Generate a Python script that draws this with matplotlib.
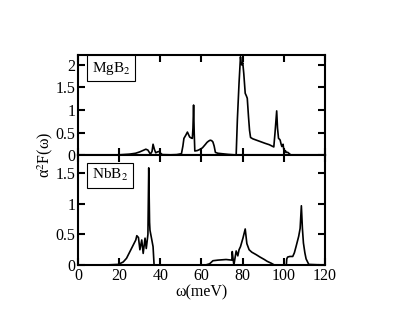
import numpy as np
import matplotlib
matplotlib.use("Agg")
import matplotlib.pyplot as plt

plt.rcParams["font.family"] = ["Liberation Serif", "DejaVu Serif"]
plt.rcParams["mathtext.fontset"] = "stix"

# MgB2 spectral function (omega in meV, alpha^2 F)
mg_w = [0, 15, 20, 25, 28, 30, 32, 33, 34, 35.2, 36, 36.5, 37.2, 37.8, 38.6, 39.4,
        40.2, 41, 45, 48, 50.3, 51, 51.5, 52.4, 53.2, 53.8, 54.3, 55, 55.6, 55.9,
        56.2, 56.5, 56.8, 58, 59, 60.5, 62, 62.7, 63.5, 64.3, 65, 65.6, 66.2, 66.8,
        68, 70, 73, 76, 76.9, 77.5, 78.3, 79.0, 79.3, 79.6, 80.1, 80.6, 81.3, 81.8,
        82.3, 82.9, 83.4, 83.9, 85.0, 88, 91, 93, 95.2, 95.8, 96.6, 97.0, 97.5, 98.0,
        98.3, 98.7, 99.1, 99.7, 100.3, 100.8, 101.3, 102, 103, 103.6, 120]
mg_a2f = [0, 0, 0.005, 0.02, 0.04, 0.07, 0.11, 0.13, 0.11, 0.02, 0.08, 0.24, 0.12,
          0.05, 0.07, 0.08, 0.04, 0.01, 0.005, 0.01, 0.03, 0.2, 0.37, 0.44, 0.51,
          0.45, 0.40, 0.38, 0.37, 0.6, 1.11, 0.5, 0.09, 0.1, 0.12, 0.16, 0.24, 0.28,
          0.31, 0.33, 0.32, 0.29, 0.2, 0.06, 0.04, 0.03, 0.015, 0.005, 0, 0.8, 1.6,
          2.18, 2.05, 2.0, 2.05, 1.81, 1.37, 1.32, 1.26, 0.85, 0.55, 0.39, 0.36, 0.31,
          0.26, 0.23, 0.18, 0.5, 0.98, 0.6, 0.37, 0.35, 0.33, 0.25, 0.19, 0.24, 0.04,
          0.1, 0.06, 0.06, 0.02, 0, 0]

# NbB2 spectral function
nb_w = [0, 10, 15, 19.6, 22, 23.6, 26.0, 28.1, 28.6, 29.4, 30.1, 31.0, 31.7, 32.6,
        33.2, 34.0, 34.4, 34.8, 35.0, 35.9, 36.5, 37, 45, 55, 62, 64, 65.6, 68, 72,
        74.8, 75.0, 75.4, 75.8, 76.9, 77.7, 78.3, 79.0, 80.2, 81.3, 82.1, 83.2, 84.5,
        86.6, 88.5, 90.6, 92, 93.9, 95.5, 101.3, 101.5, 101.9, 103, 104.4, 105.2,
        106.0, 107.3, 108.0, 108.6, 109.1, 109.6, 110.3, 110.9, 112.2, 120]
nb_a2f = [0, 0, 0.003, 0.01, 0.05, 0.11, 0.27, 0.41, 0.48, 0.45, 0.25, 0.41, 0.19,
          0.44, 0.27, 0.5, 1.59, 0.7, 0.57, 0.41, 0.3, 0, 0, 0, 0, 0.02, 0.07, 0.08,
          0.09, 0.08, 0.22, 0.1, 0, 0.23, 0.15, 0.25, 0.30, 0.44, 0.59, 0.35, 0.25,
          0.21, 0.17, 0.13, 0.09, 0.06, 0.03, 0, 0, 0.1, 0.13, 0.14, 0.14, 0.2, 0.3,
          0.47, 0.6, 0.97, 0.6, 0.36, 0.2, 0.1, 0.01, 0]

x_ticks = [0, 20, 40, 60, 80, 100, 120]
top_yticks = [0, 0.5, 1, 1.5, 2]
top_ylabels = ["0", "0.5", "1", "1.5", "2"]
bot_yticks = [0, 0.5, 1, 1.5]
bot_ylabels = ["0", "0.5", "1", "1.5"]


def style_axis(ax):
    for s in ax.spines.values():
        s.set_linewidth(1.5)
    ax.tick_params(direction="in", length=5, width=1.5, top=True, right=True,
                   labelsize=11.5, pad=2)


fig = plt.figure(figsize=(4.03, 3.12), dpi=100)
ax1 = fig.add_axes([0.1935, 0.503, 0.6125, 0.3207])
ax2 = fig.add_axes([0.1935, 0.1506, 0.6125, 0.3524])

ax1.plot(mg_w, mg_a2f, color="black", lw=1.2)
ax1.set_xlim(0, 120)
ax1.set_ylim(0, 2.22)
ax1.set_xticks(x_ticks)
ax1.set_xticklabels([])
ax1.set_yticks(top_yticks)
ax1.set_yticklabels(top_ylabels)
style_axis(ax1)
ax1.text(0.135, 0.87, "MgB$_2$", transform=ax1.transAxes, ha="center", va="center",
         fontsize=11, bbox=dict(boxstyle="square,pad=0.3", fc="white", ec="black", lw=0.8))

ax2.plot(nb_w, nb_a2f, color="black", lw=1.2)
ax2.set_xlim(0, 120)
ax2.set_ylim(0, 1.8)
ax2.set_xticks(x_ticks)
ax2.set_xticklabels([str(t) for t in x_ticks])
ax2.set_yticks(bot_yticks)
ax2.set_yticklabels(bot_ylabels)
style_axis(ax2)
ax2.text(0.13, 0.815, "NbB$_2$", transform=ax2.transAxes, ha="center", va="center",
         fontsize=11, bbox=dict(boxstyle="square,pad=0.3", fc="white", ec="black", lw=0.8))

fig.text(0.5, 0.064, "ω(meV)", ha="center", va="center", fontsize=11.5)
fig.text(0.112, 0.503, "α$^2$F(ω)", ha="center", va="center",
         rotation=90, fontsize=11.5)

fig.savefig("out.png", dpi=100)
